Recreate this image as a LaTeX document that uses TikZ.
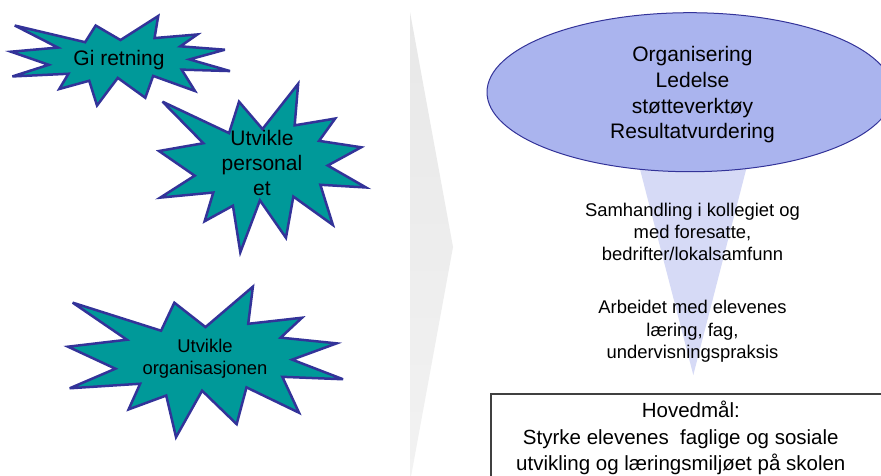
\documentclass[tikz,border=0pt]{standalone}
\usepackage{fontspec}
\setmainfont{Liberation Sans}
\usetikzlibrary{shapes.geometric}
\definecolor{tealfill}{HTML}{009999}
\definecolor{starline}{HTML}{333399}
\definecolor{ellfill}{HTML}{AAB4EE}
\definecolor{funnelfill}{HTML}{D6DAF6}
\definecolor{boxline}{HTML}{404040}
\definecolor{arrowtop}{HTML}{E8E8E8}
\definecolor{arrowbot}{HTML}{F2F2F2}
\tikzset{
  starshape/.style={fill=tealfill, draw=starline, line width=2.5pt, line join=miter, miter limit=5},
  lbl/.style={anchor=base, inner sep=0pt, text=black},
  bigtxt/.style={lbl, font=\fontsize{21}{25}\selectfont},
  midtxt/.style={lbl, font=\fontsize{18.4}{22}\selectfont},
  boxtxt/.style={lbl, font=\fontsize{20.5}{27}\selectfont},
}
\newcommand{\drawexplosion}[4]{%
  \begin{scope}[shift={(#1,#2)}, xscale=#3/216, yscale=#4/216]
    \draw[starshape] (108,58) -- (145.22,0) -- (141.55,53.25) -- (183.80,44.57) -- (167.02,73.15) -- (210.97,81.37) -- (176.07,104.75) -- (216,132.90) -- (168.37,129.42) -- (181.45,180.95) -- (140.20,144.57) -- (132.47,197.37) -- (105.32,149.35) -- (84.85,216) -- (77.15,156.27) -- (47.62,176.17) -- (56.67,139.37) -- (1.35,145.87) -- (37.22,117.75) -- (0,86.15) -- (46.27,76.17) -- (3.70,22.95) -- (73.12,63.20) -- (83.52,22.95) -- cycle;
  \end{scope}}
\begin{document}
\begin{tikzpicture}[x=1pt, y=-1pt]
\useasboundingbox (0,0) rectangle (881,475);
\clip (0,0) rectangle (881,475);
\fill[white] (0,0) rectangle (881,475);

% grey chevron
\shade[top color=arrowtop, bottom color=arrowbot] (410,12) -- (453,247) -- (410,482) -- cycle;

% stars
\drawexplosion{11}{16}{219}{89.5}
\drawexplosion{159}{83.8}{207}{168.5}
\drawexplosion{68}{286.7}{275}{150.4}

\node[bigtxt] (s1) at (119,65.5) {Gi retning};
\node[bigtxt] (s2a) at (262,145) {Utvikle};
\node[bigtxt] (s2b) at (262,170) {personal};
\node[bigtxt] (s2c) at (262,195) {et};
\node[midtxt] (s3a) at (205,352.7) {Utvikle};
\node[midtxt] (s3b) at (205,374) {organisasjonen};

% funnel and ellipse
\fill[funnelfill] (620,92) -- (766,92) -- (693.3,375) -- cycle;
\node[ellipse, draw=starline, fill=ellfill, line width=1pt, minimum width=406pt, minimum height=159pt, inner sep=0pt] (ell) at (690,92.2) {};
\node[bigtxt] (e1) at (692.5,61.7) {Organisering};
\node[bigtxt] (e2) at (692.5,87.3) {Ledelse};
\node[bigtxt] (e3) at (692.5,113) {støtteverktøy};
\node[bigtxt] (e4) at (692.5,138.5) {Resultatvurdering};

\node[midtxt] (m1) at (692.5,216.7) {Samhandling i kollegiet og};
\node[midtxt] (m2) at (692.5,238.3) {med foresatte,};
\node[midtxt] (m3) at (692.5,260) {bedrifter/lokalsamfunn};
\node[midtxt] (m4) at (692.5,313.5) {Arbeidet med elevenes};
\node[midtxt] (m5) at (692.5,336) {læring, fag,};
\node[midtxt] (m6) at (692.5,358.3) {undervisningspraksis};

% main goal box
\draw[boxline, line width=1.5pt] (491,394) rectangle (900,495);
\node[boxtxt] (b1) at (690.8,417.5) {Hovedmål:};
\node[boxtxt] (b2) at (680.8,444.5) {Styrke elevenes\ \ faglige og sosiale};
\node[boxtxt] (b3) at (680.8,470.5) {utvikling og læringsmiljøet på skolen};
\end{tikzpicture}
\end{document}
